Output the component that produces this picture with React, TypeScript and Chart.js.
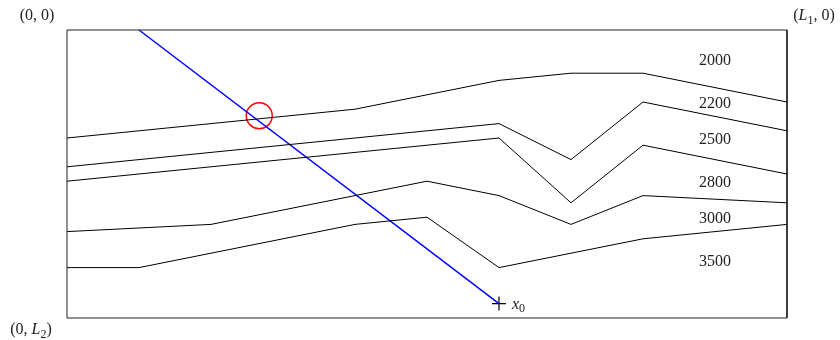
import React, { useEffect, useRef } from "react";
import { Chart, registerables } from "chart.js";

Chart.register(...registerables);

// Domain extents (L1 wide, L2 deep); depth grows downward.
const L1 = 10;
const L2 = 4;

// Layer interfaces: horizontal positions and depths of each polyline.
const interface1X = [0, 4, 6, 7, 8, 10];
const interface1Z = [1.5, 1.1, 0.7, 0.6, 0.6, 1.0];
const interface2X = [0, 6, 7, 8, 10];
const interface2Z = [1.9, 1.3, 1.8, 1.0, 1.4];
const interface3X = [0, 6, 7, 8, 10];
const interface3Z = [2.1, 1.5, 2.4, 1.6, 2.0];
const interface4X = [0, 2, 5, 6, 7, 8, 10];
const interface4Z = [2.8, 2.7, 2.1, 2.3, 2.7, 2.3, 2.4];
const interface5X = [0, 1, 4, 5, 6, 8, 10];
const interface5Z = [3.3, 3.3, 2.7, 2.6, 3.3, 2.9, 2.7];

// Layer velocities and the point where each label sits.
const velocityLabels = ["2000", "2200", "2500", "2800", "3000", "3500"];
const velocityLabelX = [9, 9, 9, 9, 9, 9];
const velocityLabelZ = [0.4, 1.0, 1.5, 2.1, 2.6, 3.2];

// Ray from the surface down to the source point x0.
const rayX = [1, 6];
const rayZ = [0, 3.8];

// Highlighted crossing of the ray with the first interface.
const markX = [2.67];
const markZ = [1.19];

const toPoints = (xs: number[], zs: number[]) => xs.map((x, i) => ({ x, y: zs[i] }));

const SERIF = "'Liberation Serif', 'DejaVu Serif', serif";

type Piece = { t: string; italic?: boolean; sub?: boolean };

function drawMath(ctx: CanvasRenderingContext2D, pieces: Piece[], cx: number, cy: number, size: number, align: "center" | "left") {
  const fontFor = (p: Piece) => `${p.italic ? "italic " : ""}${p.sub ? Math.round(size * 0.72) : size}px ${SERIF}`;
  let total = 0;
  const widths = pieces.map((p) => {
    ctx.font = fontFor(p);
    const w = ctx.measureText(p.t).width;
    total += w;
    return w;
  });
  let x = align === "center" ? cx - total / 2 : cx;
  ctx.textBaseline = "middle";
  ctx.textAlign = "left";
  pieces.forEach((p, i) => {
    ctx.font = fontFor(p);
    ctx.fillText(p.t, x, p.sub ? cy + size * 0.28 : cy);
    x += widths[i];
  });
}

const annotations = {
  id: "modelAnnotations",
  afterDatasetsDraw(chart: Chart) {
    const ctx = chart.ctx;
    const xs = chart.scales.x;
    const ys = chart.scales.y;
    ctx.save();
    ctx.fillStyle = "#222";
    velocityLabels.forEach((label, i) => {
      ctx.font = `16px ${SERIF}`;
      ctx.textAlign = "center";
      ctx.textBaseline = "middle";
      ctx.fillText(label, xs.getPixelForValue(velocityLabelX[i]), ys.getPixelForValue(velocityLabelZ[i]) + 1.5);
    });
    const left = xs.getPixelForValue(0);
    const right = xs.getPixelForValue(L1);
    const top = ys.getPixelForValue(0);
    const bottom = ys.getPixelForValue(L2);
    drawMath(ctx, [{ t: "(0, 0)" }], left - 30, top - 14, 16, "center");
    drawMath(ctx, [{ t: "(" }, { t: "L", italic: true }, { t: "1", sub: true }, { t: ", 0)" }], right + 27, top - 14, 16, "center");
    drawMath(ctx, [{ t: "(0, " }, { t: "L", italic: true }, { t: "2", sub: true }, { t: ")" }], left - 36, bottom + 12, 16, "center");
    const sx = xs.getPixelForValue(rayX[1]);
    const sy = ys.getPixelForValue(rayZ[1]);
    drawMath(ctx, [{ t: "x", italic: true }, { t: "0", sub: true }], sx + 13, sy + 1, 16, "left");
    ctx.restore();
  },
};

export default function App() {
  const ref = useRef<HTMLCanvasElement | null>(null);
  useEffect(() => {
    if (!ref.current) return;
    const line = (data: { x: number; y: number }[], color = "#000", width = 1) => ({
      data,
      showLine: true,
      borderColor: color,
      borderWidth: width,
      pointRadius: 0,
      fill: false,
      tension: 0,
    });
    const chart = new Chart(ref.current, {
      type: "scatter",
      data: {
        datasets: [
          line(toPoints([0, L1, L1, 0, 0], [0, 0, L2, L2, 0]), "#222", 1),
          line(toPoints(interface1X, interface1Z)),
          line(toPoints(interface2X, interface2Z)),
          line(toPoints(interface3X, interface3Z)),
          line(toPoints(interface4X, interface4Z)),
          line(toPoints(interface5X, interface5Z)),
          line(toPoints(rayX, rayZ), "#0000ff", 1.5),
          {
            data: toPoints(markX, markZ),
            showLine: false,
            pointStyle: "circle",
            pointRadius: 13,
            borderColor: "#ff0000",
            backgroundColor: "rgba(0,0,0,0)",
            borderWidth: 1.5,
          },
          {
            data: toPoints([rayX[1]], [rayZ[1]]),
            showLine: false,
            pointStyle: "cross",
            pointRadius: 7,
            borderColor: "#000",
            borderWidth: 1.2,
          },
        ] as any,
      },
      options: {
        animation: false,
        responsive: false,
        devicePixelRatio: 1,
        clip: false as any,
        layout: { padding: { left: 67, right: 53, top: 30, bottom: 22 } },
        plugins: { legend: { display: false }, tooltip: { enabled: false } },
        scales: {
          x: { type: "linear", min: 0, max: L1, display: false },
          y: { type: "linear", min: 0, max: L2, reverse: true, display: false },
        },
      },
      plugins: [annotations],
    });
    return () => chart.destroy();
  }, []);
  return (
    <div style={{ position: "absolute", left: 0, top: 0, width: 840, height: 340, background: "#fff" }}>
      <canvas ref={ref} width={840} height={340} />
    </div>
  );
}
